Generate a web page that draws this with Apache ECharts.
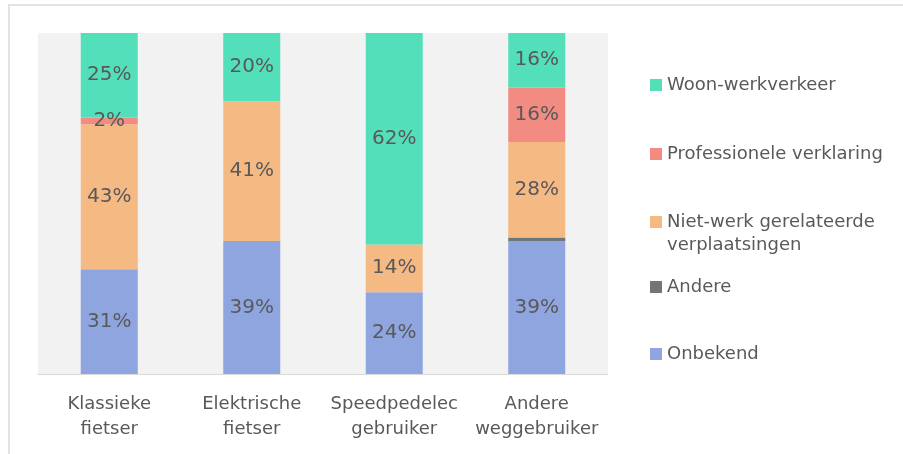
<!DOCTYPE html>
<html>
<head>
<meta charset="utf-8">
<script src="https://cdn.jsdelivr.net/npm/echarts@6/dist/echarts.min.js"></script>
<style>
  html, body { margin: 0; padding: 0; background: #ffffff; }
  #chart { width: 903px; height: 454px; }
</style>
</head>
<body>
<div id="chart"></div>
<script>
// Categories (road-user type) and share per purpose, in percent
const categories = ['Klassieke\nfietser', 'Elektrische\nfietser', 'Speedpedelec\ngebruiker', 'Andere\nweggebruiker'];
const onbekend      = [31, 39, 24, 39];
const andere        = [0, 0, 0, 1];
const nietWerk      = [43, 41, 14, 28];
const professionele = [2, 0, 0, 16];
const woonWerk      = [25, 20, 62, 16];

const seriesDefs = [
  { name: 'Onbekend', values: onbekend, color: '#8fa5e0', label: true },
  { name: 'Andere', values: andere, color: '#6f767a', label: false },
  { name: 'Niet-werk gerelateerde verplaatsingen', values: nietWerk, color: '#f5b984', label: true },
  { name: 'Professionele verklaring', values: professionele, color: '#f28b82', label: true },
  { name: 'Woon-werkverkeer', values: woonWerk, color: '#52dfb9', label: true }
];
// The long legend entry wraps; its first line sits beside the swatch
const legendFirstLine = {
  'Niet-werk gerelateerde verplaatsingen': 'Niet-werk gerelateerde'
};

// 100% stacked: each bar is scaled by its own category total
const totals = categories.map((_, i) => seriesDefs.reduce((s, d) => s + d.values[i], 0));

const font = 'DejaVu Sans';
const textColor = '#595959';

const series = seriesDefs.map(d => ({
  name: d.name,
  type: 'bar',
  stack: 'total',
  barWidth: 57,
  itemStyle: { color: d.color },
  data: d.values.map((v, i) => ({ value: v / totals[i] * 100, raw: v })),
  label: {
    show: d.label,
    position: 'inside',
    color: textColor,
    fontFamily: font,
    fontSize: 20,
    formatter: p => (p.data.raw > 0 ? p.data.raw + '%' : '')
  },
  emphasis: { disabled: true }
}));

function legendItem(name, top) {
  return {
    orient: 'vertical',
    left: 645,
    top: top,
    data: [name],
    itemWidth: 12,
    itemHeight: 12,
    icon: 'rect',
    selectedMode: false,
    formatter: n => legendFirstLine[n] || n,
    textStyle: { color: textColor, fontFamily: font, fontSize: 18, lineHeight: 24 }
  };
}

const chart = echarts.init(document.getElementById('chart'), null, { renderer: 'canvas' });
chart.setOption({
  animation: false,
  backgroundColor: '#ffffff',
  grid: {
    left: 38, right: 295, top: 33, bottom: 80,
    show: true, backgroundColor: '#f2f2f2', borderWidth: 0
  },
  xAxis: {
    type: 'category',
    data: categories,
    axisTick: { show: false },
    axisLine: { show: true, lineStyle: { color: '#d9d9d9', width: 1 } },
    axisLabel: { interval: 0, color: textColor, fontFamily: font, fontSize: 18, lineHeight: 25, margin: 18 }
  },
  yAxis: {
    type: 'value',
    min: 0, max: 100,
    show: false,
    splitLine: { show: false }
  },
  legend: [
    legendItem('Woon-werkverkeer', 68),
    legendItem('Professionele verklaring', 137),
    legendItem('Niet-werk gerelateerde verplaatsingen', 205),
    legendItem('Andere', 270),
    legendItem('Onbekend', 337)
  ],
  graphic: [
    {
      type: 'polyline',
      silent: true,
      shape: { points: [[9, 460], [9, 5], [910, 5]] },
      style: { stroke: '#e3e3e3', lineWidth: 2, fill: null }
    },
    {
      type: 'text',
      silent: true,
      x: 667,
      y: 245,
      style: {
        text: 'verplaatsingen',
        fill: textColor,
        font: '18px "DejaVu Sans"',
        verticalAlign: 'middle'
      }
    }
  ],
  series: series
});
</script>
</body>
</html>
